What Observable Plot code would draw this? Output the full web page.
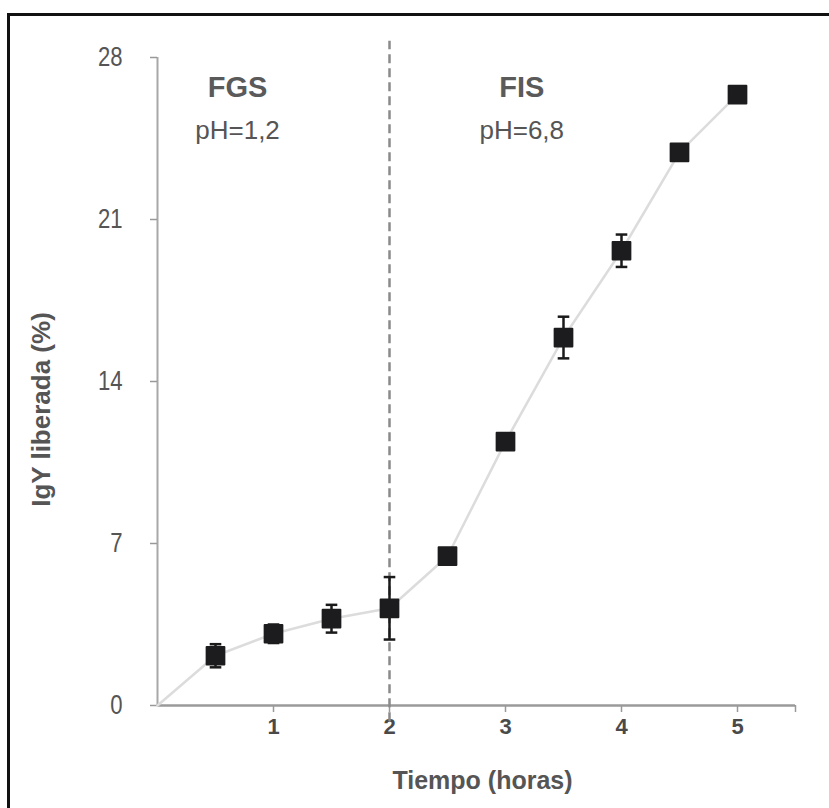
<!DOCTYPE html>
<html>
<head>
<meta charset="utf-8">
<script src="https://cdn.jsdelivr.net/npm/d3@7"></script>
<script src="https://cdn.jsdelivr.net/npm/@observablehq/plot@0.6"></script>
<style>
  html, body { margin: 0; padding: 0; background: #fff; }
  #wrap { position: relative; width: 829px; height: 808px; overflow: hidden; }
  #frame { position: absolute; left: 7px; top: 13px; width: 840px; height: 820px;
           border-top: 3px solid #111; border-left: 3px solid #111; pointer-events: none; }
</style>
</head>
<body>
<div id="wrap"><div id="frame"></div></div>
<script>
// Data
const hours   = [0, 0.5, 1, 1.5, 2, 2.5, 3, 3.5, 4, 4.5, 5];
const release = [0, 2.15, 3.1, 3.75, 4.2, 6.45, 11.4, 15.9, 19.65, 23.9, 26.4];
const errors  = [0, 0.5, 0.4, 0.6, 1.35, 0.15, 0.15, 0.9, 0.7, 0.3, 0];
const yTicks = [0, 7, 14, 21, 28];
const xTicks = [1, 2, 3, 4, 5];
const phaseLabels = ["FGS", "FIS"];
const phLabels = ["pH=1,2", "pH=6,8"];
const phaseX = [0.69, 3.14];
const boundary = 2;

const pts = hours.map((h, i) => ({x: h, y: release[i], e: errors[i]}));
const measured = pts.filter(d => d.x > 0);
const withErr = measured.filter(d => d.e > 0);
const cap = 0.05;

const sans = "'Liberation Sans', Arial, sans-serif";

const chart = Plot.plot({
  width: 829,
  height: 808,
  marginLeft: 157,
  marginRight: 34,
  marginTop: 57,
  marginBottom: 103,
  style: {background: "transparent", fontFamily: sans, overflow: "visible"},
  x: {domain: [0, 5.5]},
  y: {domain: [0, 28]},
  marks: [
    // axis lines
    Plot.ruleY([0], {stroke: "#9a9a9a", strokeWidth: 2.5}),
    Plot.ruleX([0], {stroke: "#a8a8a8", strokeWidth: 2}),
    Plot.axisY({ticks: yTicks, tickSize: 7, tickPadding: 28, stroke: "#999", strokeWidth: 1.5,
                fontSize: 27, fontFamily: sans, fill: "#555", label: null}),
    Plot.axisX({ticks: [...xTicks, 5.5], tickFormat: d => d === 5.5 ? "" : d, tickSize: 7, tickPadding: 6,
                stroke: "#999", strokeWidth: 1.5, fontSize: 22, fontWeight: "bold", fill: "#4a4a4a", label: null}),
    // phase boundary
    Plot.ruleX([boundary], {y1: -0.7, y2: 28.7, stroke: "#8a8a8a", strokeWidth: 2.5, strokeDasharray: "9,5"}),
    // release curve
    Plot.line(pts, {x: "x", y: "y", stroke: "#dcdcdc", strokeWidth: 2.5}),
    // error bars
    Plot.ruleX(withErr, {x: "x", y1: d => d.y - d.e, y2: d => d.y + d.e, stroke: "#1a1a1a", strokeWidth: 2.5}),
    Plot.link(withErr, {x1: d => d.x - cap, x2: d => d.x + cap, y1: d => d.y + d.e, y2: d => d.y + d.e, stroke: "#1a1a1a", strokeWidth: 2.5}),
    Plot.link(withErr, {x1: d => d.x - cap, x2: d => d.x + cap, y1: d => d.y - d.e, y2: d => d.y - d.e, stroke: "#1a1a1a", strokeWidth: 2.5}),
    // markers
    Plot.dot(measured, {x: "x", y: "y", symbol: "square", r: 10, fill: "#1c1c1e", stroke: "#1c1c1e", strokeWidth: 2, strokeLinejoin: "round"}),
    // phase annotations
    Plot.text(phaseLabels, {x: (d, i) => phaseX[i], y: 26.7, text: d => d, fontSize: 29, fontWeight: "bold", fill: "#5a5a5a", fontFamily: sans}),
    Plot.text(phLabels, {x: (d, i) => phaseX[i], y: 24.85, text: d => d, fontSize: 26, fill: "#555", fontFamily: sans}),
    // axis titles
    Plot.text(["Tiempo (horas)"], {frameAnchor: "bottom", textAnchor: "middle", lineAnchor: "middle", dx: 6, dy: 75, fontSize: 25, fontWeight: "bold", fill: "#555", fontFamily: sans}),
    Plot.text(["IgY liberada (%)"], {frameAnchor: "left", textAnchor: "middle", lineAnchor: "middle", dx: -116, dy: 28, rotate: -90, fontSize: 26, fontWeight: "bold", fill: "#555", fontFamily: sans})
  ]
});
document.getElementById("wrap").prepend(chart);

// narrow the y tick labels horizontally, keeping their right edges fixed
d3.select(chart).selectAll('g[aria-label="y-axis tick label"] text').each(function () {
  const b = this.getBBox();
  const cx = b.x + b.width;
  const old = this.getAttribute("transform") || "";
  this.setAttribute("transform", `${old} translate(${cx},0) scale(0.82,1) translate(${-cx},0)`);
});
</script>
</body>
</html>
